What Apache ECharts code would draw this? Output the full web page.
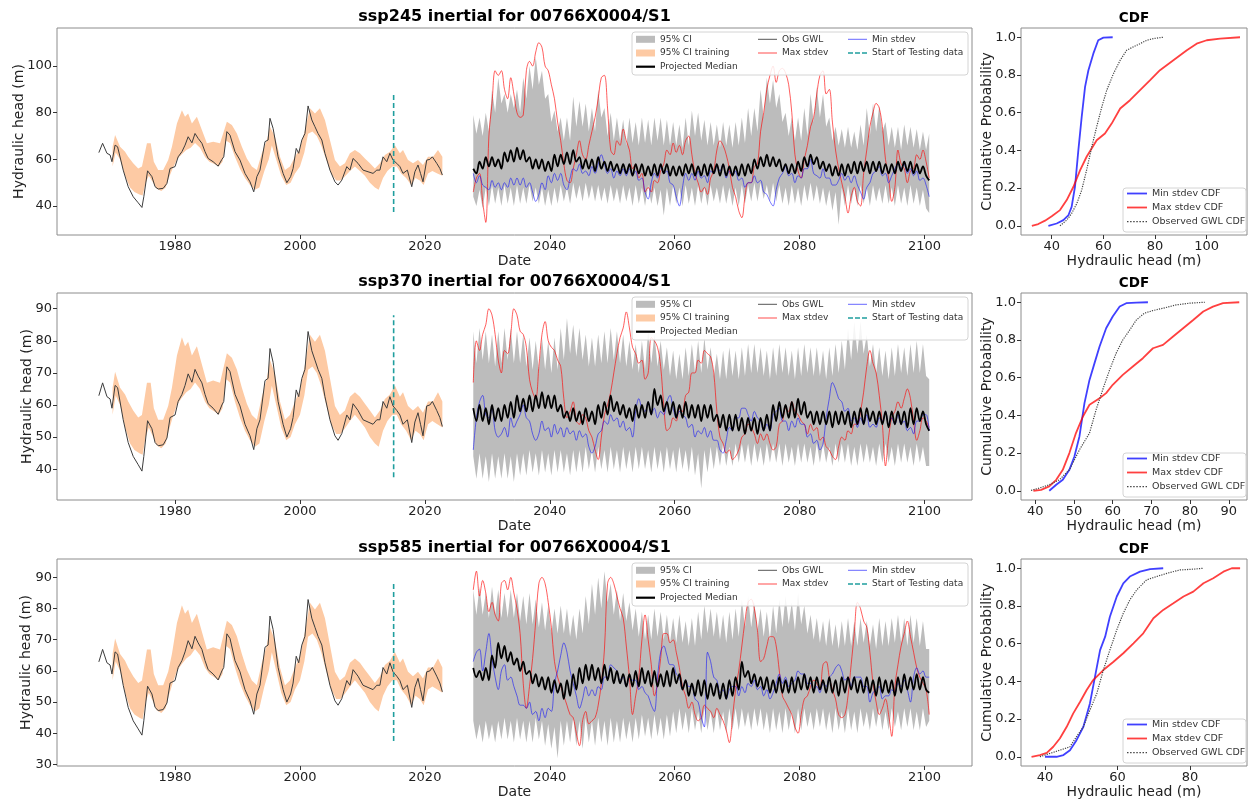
<!DOCTYPE html>
<html>
<head>
<meta charset="utf-8">
<script src="https://cdn.jsdelivr.net/npm/echarts@6/dist/echarts.min.js"></script>
<style>html,body{margin:0;padding:0;background:#fff}#chart{width:1250px;height:801px}</style>
</head>
<body>
<div id="chart"></div>
<script>
const FONT = 'DejaVu Sans';
const GREY = '#bcbcbc';
const ORANGE = '#fdcaa4';
const TEAL = '#1f9e9e';
const RED = 'rgba(255,0,0,0.7)';
const BLUE = 'rgba(0,0,255,0.6)';

// observed groundwater level (shared by all scenarios)
const obsHist = [[1967.8,62.9],[1968.4,66.9],[1969.1,62.6],[1969.6,61.9],[1969.9,59],[1970.4,66.1],[1970.8,65.4],[1971.7,55.4],[1972.5,48.3],[1973.3,44],[1974.1,41.4],[1974.7,39.4],[1975.0,44],[1975.6,55.1],[1976.3,52.6],[1976.8,48.3],[1977.3,47.3],[1978.1,47.6],[1978.7,49.7],[1979.2,56.1],[1980.0,56.9],[1980.5,61.1],[1981.1,63.3],[1981.6,66.1],[1982.1,69.7],[1982.7,67.1],[1983.2,71.1],[1983.7,69],[1984.3,66.9],[1984.8,63.3],[1985.3,60.4],[1986.1,59],[1986.9,57.1],[1987.5,60],[1987.8,61.1],[1988.3,71.9],[1988.8,70.4],[1989.6,63.3],[1990.4,59.7],[1991.2,54],[1992.0,50.4],[1992.6,46.1],[1993.1,52.6],[1993.6,55.4],[1994.4,67.6],[1994.9,68.3],[1995.2,77.6],[1995.7,73.3],[1996.5,61.1],[1997.3,54],[1997.9,50],[1998.5,52.6],[1998.9,56.1],[1999.4,64.7],[1999.8,62.6],[2000.3,68.3],[2000.8,71.1],[2001.3,82.9],[2001.9,76.9],[2002.4,74],[2002.9,71.1],[2003.5,68.3],[2004.0,62.6],[2004.8,55.4],[2005.6,50.4],[2006.1,49],[2006.7,51.1],[2007.5,56.9],[2008.0,55.4],[2008.5,60.4],[2009.3,58.3],[2010.1,55.4],[2010.9,54.7],[2011.7,54],[2012.3,55.4],[2012.8,55.4],[2013.3,61.1],[2013.9,59],[2014.4,62.6],[2014.9,59.7],[2015.5,58.3],[2016.0,56.9],[2016.5,54],[2017.2,55.4],[2017.9,48.3],[2018.4,54.7],[2018.9,57.6],[2019.3,54],[2019.7,50.4],[2020.3,59.7],[2020.8,60],[2021.2,61.1],[2021.9,58.3],[2022.4,56.1],[2022.8,53.3]];

// 95% CI of the training period
const trainUpper = [[1970.0,65.4],[1970.4,70.4],[1971.2,65.4],[1972.0,63.3],[1972.5,61.1],[1973.3,58.3],[1974.1,56.1],[1974.7,56.9],[1975.5,66.9],[1976.1,66.9],[1976.6,59],[1977.3,55.4],[1978.1,55.4],[1978.9,59.7],[1979.5,65.4],[1980.3,75.4],[1981.1,81.1],[1981.6,78.3],[1982.1,79.7],[1982.7,75.4],[1983.5,78.3],[1984.3,72.6],[1985.1,66.9],[1986.1,67.6],[1987.2,66.9],[1988.3,76.1],[1989.1,74.7],[1989.9,71.1],[1990.7,65.4],[1991.5,60.4],[1992.3,56.9],[1993.1,55.4],[1993.9,62.6],[1994.7,68.3],[1995.2,74],[1996.0,69.7],[1996.8,61.1],[1997.6,55.4],[1998.4,56.9],[1999.2,61.1],[2000.0,64.7],[2000.8,72.6],[2001.6,81.9],[2002.4,79.7],[2003.2,81.9],[2004.0,76.9],[2004.8,68.3],[2005.6,59.7],[2006.4,56.9],[2007.2,58.3],[2008.0,62.6],[2008.8,64],[2009.6,62.6],[2010.4,60.4],[2011.2,58.3],[2012.0,56.1],[2012.8,58.3],[2013.6,61.9],[2014.4,63.3],[2015.2,66.1],[2016.0,62.6],[2016.5,64],[2017.3,59.7],[2018.1,58.3],[2018.9,59.7],[2019.7,57.6],[2020.5,61.1],[2021.3,61.1],[2022.1,64],[2022.8,61.1]];
const trainLower = [[1970.0,57],[1970.5,63],[1971.2,60],[1972.0,53],[1972.8,48],[1973.5,46],[1974.3,45],[1974.8,44.5],[1975.3,50],[1975.8,53],[1976.5,50],[1977.0,47.5],[1977.8,46.5],[1978.5,48],[1979.0,52],[1979.6,56],[1980.3,60],[1981.0,62],[1981.8,64],[1982.5,65],[1983.2,67],[1984.0,65],[1984.8,61],[1985.5,59],[1986.3,58],[1987.0,57],[1987.6,59],[1988.2,68],[1988.8,67],[1989.6,61],[1990.4,56],[1991.2,52],[1992.0,49],[1992.8,47],[1993.5,48],[1994.3,55],[1995.0,60],[1995.5,66],[1996.2,60],[1997.0,53],[1997.8,49],[1998.5,50],[1999.2,54],[2000.0,57],[2000.7,63],[2001.3,71],[2002.0,72],[2002.7,70],[2003.4,66],[2004.2,60],[2005.0,54],[2005.8,51],[2006.5,51],[2007.3,53],[2008.0,55],[2008.8,57],[2009.6,55],[2010.4,53],[2011.2,50],[2012.0,48],[2012.6,47],[2013.3,52],[2014.0,55],[2014.8,57],[2015.5,57],[2016.2,54],[2017.0,52],[2017.8,49],[2018.5,52],[2019.2,51],[2019.8,49],[2020.5,54],[2021.2,55],[2022.0,54],[2022.8,53]];

const testStart = [[2015, 37.5], [2015, 88]];

// projections: half-yearly values from 2027.75 to 2100.75
const projStart = 2027.75;
const up245 = [79,71,78,70,80,72,90,80,95,84,88,80,88,82,90,80,95,86,100,90,
  104,92,98,86,88,76,81,72,78,68,78,68,87,74,85,74,84,72,82,72,
  90,78,82,70,80,68,78,68,77,66,78,67,76,66,78,67,77,66,78,68,
  78,66,77,66,76,66,75,65,78,66,81,70,80,68,77,66,76,66,75,65,
  76,66,75,65,76,66,78,67,82,70,82,72,90,78,95,84,94,82,88,76,
  80,70,78,68,78,68,82,70,88,76,91,78,88,74,78,68,74,66,73,65,
  74,65,72,64,75,66,82,70,84,72,83,72,76,66,74,65,74,64,75,66,
  74,65,73,64,72,64,71];
const lo245 = [44,40,47,39,48,40,49,41,48,40,49,41,48,40,49,41,48,41,49,42,
  48,41,48,40,47,40,48,41,49,42,48,41,50,43,49,42,50,43,49,42,
  49,42,48,41,49,42,48,41,49,42,48,40,49,41,48,40,49,41,48,40,
  47,36,48,40,49,41,48,40,49,41,48,40,49,41,48,40,49,42,48,41,
  49,41,48,40,48,40,49,41,49,42,50,42,50,43,49,42,50,42,49,41,
  48,40,49,41,48,40,49,42,50,42,49,41,48,40,47,38,46,32,48,40,
  49,41,48,40,49,41,48,40,49,42,48,41,49,41,48,40,49,41,48,40,
  49,41,48,40,47,39,37];
const med245 = [56,54,59,56,61,57,61,57,60,56,63,59,64,59,65,60,64,59,61,56,
  60,56,60,55,59,55,62,57,62,58,63,58,64,59,61,56,60,56,60,55,
  61,56,59,55,59,55,58,54,58,54,58,53,58,54,58,53,57,53,58,53,
  58,54,58,53,57,53,57,53,58,54,58,53,57,53,58,53,58,54,58,53,
  58,53,57,53,57,53,58,53,58,54,60,56,61,57,62,57,61,57,60,55,
  58,54,58,54,59,55,61,57,62,58,61,56,59,55,58,53,57,53,58,53,
  58,54,59,54,59,55,59,54,59,55,59,54,58,54,58,54,59,55,59,55,
  59,54,58,54,57,53,51];
const red245 = [46,52,54,42,33,70,84,98,96,98,90,86,95,88,80,78,79,98,102,100,
  106,110,108,100,98,92,86,76,68,58,51,50,56,62,68,62,60,66,72,78,
  86,95,96,82,64,62,68,66,73,68,64,56,58,52,54,46,48,46,51,50,
  55,58,64,62,67,63,66,62,68,70,62,54,50,46,48,45,52,55,64,68,
  66,62,56,48,44,38,35,44,50,50,57,58,72,80,90,96,100,93,98,99,
  97,92,80,62,55,52,60,66,74,78,88,96,98,88,90,76,64,56,50,44,
  37,44,48,42,40,54,64,74,80,84,82,74,60,52,42,48,64,58,56,50,
  55,56,62,60,64,59,52];
const blue245 = [54,50,53,49,48,47,51,48,50,47,50,48,52,49,52,49,52,48,50,46,
  42,45,50,47,53,50,54,51,54,49,47,52,56,55,58,54,55,53,57,54,
  58,62,58,54,56,52,55,53,56,53,56,53,55,51,52,46,43,50,54,52,
  57,54,55,50,49,44,40,48,54,51,54,51,55,52,53,50,55,54,57,55,
  58,52,55,53,55,51,52,48,50,50,53,50,51,46,45,42,40,47,52,54,
  57,53,54,50,53,52,56,56,60,54,53,52,56,52,52,49,49,51,54,51,
  53,50,53,49,46,43,48,50,54,55,57,53,54,50,53,56,58,56,58,54,
  56,53,55,51,52,49,44];

const up370 = [83,73,84,74,83,73,82,72,83,73,84,74,84,73,83,73,82,72,81,71,
  80,71,81,71,80,70,81,71,84,74,87,76,85,75,84,74,82,72,81,72,
  82,73,83,73,84,74,83,73,82,72,80,71,79,70,80,71,83,73,82,72,
  80,71,78,69,77,68,76,68,78,69,79,70,80,70,81,71,78,69,76,68,
  77,68,78,69,77,68,78,69,79,70,79,70,78,69,77,68,78,69,79,70,
  78,69,77,68,78,69,79,70,78,69,78,69,77,68,78,69,79,70,80,71,
  84,74,86,76,86,76,82,72,79,70,78,69,77,68,78,69,79,70,78,69,
  79,70,80,70,79,69,68];
const lo370 = [44,37,45,37,44,36,45,37,44,37,45,37,44,36,45,38,45,38,46,39,
  45,38,46,39,45,38,46,39,46,39,45,38,46,39,46,39,47,40,46,39,
  47,40,46,39,47,40,46,39,47,40,46,39,47,40,47,40,46,39,47,40,
  46,39,47,40,46,39,47,40,46,39,47,38,45,34,46,39,47,40,47,41,
  48,41,47,41,48,42,48,42,48,41,48,42,47,41,48,42,48,42,48,41,
  48,42,47,41,48,42,48,42,47,41,48,42,48,42,47,41,48,42,48,42,
  48,41,47,41,48,42,48,42,47,41,48,42,48,42,47,41,48,42,48,42,
  47,41,48,42,47,41,41];
const med370 = [59,55,60,55,59,54,60,55,59,55,60,56,61,56,63,58,62,58,63,58,
  63,59,64,59,63,59,63,58,60,56,58,55,59,55,58,54,59,55,58,54,
  60,56,61,57,63,58,61,57,60,56,59,55,60,56,60,56,61,57,65,60,
  63,58,61,57,61,56,60,56,61,56,60,56,60,55,60,56,60,55,57,53,
  57,52,57,52,57,52,56,51,56,52,56,51,56,52,57,52,60,55,61,56,
  60,56,61,56,62,57,61,56,58,54,58,54,58,54,58,53,58,54,58,54,
  58,53,58,54,59,54,59,55,58,54,58,54,58,53,58,54,58,54,58,53,
  59,54,59,55,58,54,52];
const red370 = [67,80,77,82,85,90,88,82,74,70,77,76,82,90,88,83,82,78,68,64,
  62,72,82,86,80,78,77,74,72,62,56,58,61,55,54,57,56,52,50,46,
  43,50,57,60,64,70,76,81,84,89,84,78,76,73,74,68,70,81,80,78,
  72,60,52,53,56,55,59,58,63,64,70,70,74,73,77,76,75,70,58,50,
  48,45,46,43,44,46,50,51,54,53,51,48,51,49,51,48,46,47,54,55,
  59,58,61,58,57,55,54,51,54,52,53,49,50,47,46,44,43,47,50,49,
  52,51,54,54,58,64,72,77,73,70,63,54,41,50,56,58,61,59,62,65,
  62,55,49,52,56,55,53];
const blue370 = [46,56,61,63,57,56,59,52,50,51,53,50,56,53,55,57,60,56,55,51,
  49,51,55,52,53,50,54,51,53,50,53,51,52,49,52,50,51,47,45,47,
  51,52,55,54,57,55,56,53,55,52,53,50,58,62,59,58,61,57,59,56,
  58,57,61,63,59,56,58,57,56,53,54,50,52,51,53,50,52,49,49,46,
  45,49,53,52,56,56,59,59,57,55,58,56,55,52,54,52,57,58,59,55,
  55,52,55,53,56,54,54,50,51,48,49,46,48,56,62,67,65,62,61,58,
  59,55,56,53,56,54,57,53,54,53,56,55,58,54,56,54,57,54,55,52,
  53,51,55,55,57,57,52];

const up585 = [86,78,87,78,85,77,87,78,86,77,85,77,86,77,85,76,84,75,85,75,
  83,74,82,73,81,72,80,72,81,72,80,71,78,70,80,72,84,75,88,78,
  90,80,92,82,88,78,86,76,85,76,82,73,80,71,79,70,78,70,80,71,
  79,70,78,69,77,69,78,69,76,68,77,68,79,70,81,72,80,71,79,70,
  78,69,79,70,80,71,83,74,84,74,82,73,80,71,79,70,81,72,83,74,
  84,75,82,73,85,75,81,72,78,70,77,69,76,68,77,68,75,67,76,68,
  77,68,76,68,77,69,76,68,75,67,77,68,76,68,77,69,78,69,77,68,
  78,69,77,68,76,67,67];
const lo585 = [44,38,43,37,44,38,43,37,44,38,45,38,44,37,45,38,44,37,44,37,
  45,38,44,36,43,35,42,32,44,36,44,37,45,36,44,35,45,37,44,36,
  45,37,44,36,45,37,44,37,45,38,44,37,45,38,46,39,45,38,46,39,
  45,38,46,39,47,40,48,41,47,40,48,41,47,40,48,41,47,40,48,41,
  47,40,48,41,48,41,48,42,47,41,48,42,48,41,47,40,48,41,47,40,
  48,41,47,40,48,41,48,42,47,41,48,42,48,41,47,40,48,41,47,40,
  48,41,47,40,48,42,47,41,48,42,48,41,47,41,48,42,47,41,48,42,
  48,41,47,41,48,42,44];
const med585 = [61,58,60,57,61,57,65,61,69,64,68,63,66,62,64,60,63,59,60,56,
  59,55,58,54,58,53,57,53,56,51,57,52,59,54,61,56,62,57,62,57,
  61,56,62,57,61,56,60,56,59,55,59,55,60,55,61,56,60,55,60,55,
  59,55,60,55,61,56,59,54,57,52,56,52,57,52,57,51,56,52,56,51,
  56,51,57,52,58,54,63,58,60,56,59,55,58,54,58,53,57,53,58,53,
  57,53,58,53,58,54,59,54,58,53,58,54,57,53,58,53,57,52,58,53,
  58,54,58,53,57,53,58,53,57,52,58,53,57,53,57,52,58,53,59,54,
  58,54,59,54,58,54,53];
const red585 = [86,92,84,89,85,79,82,78,76,88,89,86,90,85,80,72,56,48,55,64,
  76,88,90,88,82,74,63,58,55,52,49,46,45,40,36,44,47,43,44,45,
  49,56,67,88,90,88,84,80,77,68,58,46,52,58,70,78,70,62,52,56,
  64,72,72,69,70,66,61,55,52,48,50,46,44,45,49,48,47,45,48,46,
  44,41,37,45,54,60,68,76,82,83,80,73,63,64,68,71,71,68,60,52,
  50,48,46,42,40,46,51,52,55,57,56,54,62,63,58,54,51,46,45,46,
  52,62,72,82,80,76,74,66,56,50,46,48,51,46,39,55,62,68,72,76,
  71,66,61,58,56,54,46];
const blue585 = [63,66,67,60,66,72,64,58,54,60,62,57,58,55,52,49,49,48,50,46,
  47,44,48,45,48,47,56,60,65,69,66,60,56,52,48,51,55,52,54,52,
  55,54,58,58,62,61,60,57,58,55,58,57,57,54,55,53,52,49,47,58,
  66,68,65,62,62,59,58,54,57,55,55,51,50,45,42,66,63,58,57,53,
  54,51,54,55,55,52,55,53,56,55,57,54,55,52,54,51,53,56,59,56,
  58,55,56,57,60,59,59,56,56,54,55,53,56,55,58,59,61,62,60,57,
  58,55,58,58,58,55,55,50,53,54,55,51,52,52,54,53,56,55,57,54,
  50,58,61,59,60,58,58];

// CDFs: [hydraulic head, cumulative probability]
const cdfMin245 = [[38.7,0],[41.9,0.012],[44.5,0.03],[46.5,0.057],[47.7,0.1],[49,0.207],[50.3,0.4],[51.6,0.578],[52.9,0.737],[54.2,0.825],[56.1,0.913],[58,0.984],[60,0.998],[63.6,1]];
const cdfMax245 = [[32.3,0],[34.8,0.009],[37.4,0.027],[40,0.05],[43.2,0.083],[45.8,0.136],[48.4,0.207],[51,0.295],[53.5,0.366],[57.4,0.454],[60.6,0.489],[63.2,0.542],[66.5,0.622],[70.3,0.666],[74.2,0.719],[78.1,0.772],[81.9,0.825],[87.1,0.878],[92.3,0.931],[96.1,0.966],[100,0.984],[105.2,0.993],[112.9,1]];
const cdfObs245 = [[43.2,0],[45.8,0.03],[47.7,0.065],[49.7,0.118],[51.6,0.189],[53.5,0.295],[55.5,0.419],[57.4,0.525],[59.4,0.631],[61.3,0.719],[63.9,0.807],[66.5,0.878],[69,0.931],[71.6,0.949],[74.2,0.966],[76.8,0.984],[79.4,0.993],[83.2,1]];
const cdfMin370 = [[43.6,0],[45.4,0.032],[47.1,0.058],[48.8,0.111],[50.1,0.182],[51.4,0.288],[52.7,0.465],[54,0.588],[55.3,0.677],[56.6,0.765],[58.3,0.862],[60,0.924],[61.8,0.977],[63.5,0.995],[66.1,0.998],[69.1,1]];
const cdfMax370 = [[39.5,0],[41.5,0.005],[43.6,0.023],[45.4,0.058],[47.1,0.111],[48.8,0.2],[50.5,0.306],[52.3,0.394],[54,0.456],[56.6,0.491],[58.3,0.518],[60,0.562],[62.6,0.615],[65.2,0.659],[67.8,0.703],[70.4,0.756],[73,0.774],[75.6,0.818],[78.2,0.862],[80.8,0.906],[83.4,0.951],[85.9,0.977],[88.5,0.995],[92.7,1]];
const cdfObs370 = [[38.9,0.002],[41,0.014],[43.6,0.032],[46.2,0.058],[48.8,0.111],[51.4,0.217],[54,0.306],[55.7,0.429],[57.4,0.535],[59.2,0.641],[60.9,0.73],[62.6,0.8],[64.4,0.853],[66.1,0.906],[68.2,0.942],[70.4,0.956],[73,0.968],[76.4,0.986],[79.9,0.995],[83.8,1]];
const cdfMin585 = [[40,0],[43.2,0],[45.1,0.009],[46.9,0.035],[48.7,0.088],[50.6,0.159],[52.4,0.283],[53.8,0.425],[55.2,0.566],[56.6,0.637],[57.9,0.743],[59.8,0.85],[61.6,0.92],[63.4,0.956],[66.2,0.982],[69,0.995],[72.6,1]];
const cdfMax585 = [[36.3,0],[38.6,0.009],[40.5,0.021],[42.3,0.053],[44.1,0.097],[46,0.159],[47.8,0.23],[49.7,0.292],[51.5,0.354],[53.3,0.407],[56.1,0.46],[58.9,0.504],[61.6,0.549],[64.4,0.602],[67.1,0.655],[69.9,0.735],[72.6,0.779],[75.4,0.814],[78.2,0.85],[80.9,0.876],[83.7,0.92],[86.4,0.947],[89.2,0.982],[91.5,1],[93.8,1]];
const cdfObs585 = [[38.6,0],[41.4,0.018],[44.1,0.035],[46.9,0.053],[48.7,0.106],[50.6,0.159],[52.4,0.248],[54.3,0.336],[56.1,0.46],[57.9,0.566],[59.8,0.673],[61.6,0.761],[63.4,0.832],[65.3,0.885],[68,0.938],[70.8,0.956],[73.6,0.973],[77.2,0.991],[80.9,0.995],[83.7,1]];

const panels = [
  {scen:'ssp245', up:up245, lo:lo245, med:med245, red:red245, blue:blue245,
   cMin:cdfMin245, cMax:cdfMax245, cObs:cdfObs245,
   yRange:[27.6,116.3], yTicks:[40,60,80,100], yGap:31,
   cRange:[28.1,115.6], cTicks:[40,60,80,100]},
  {scen:'ssp370', up:up370, lo:lo370, med:med370, red:red370, blue:blue370,
   cMin:cdfMin370, cMax:cdfMax370, cObs:cdfObs370,
   yRange:[30.4,94.9], yTicks:[40,50,60,70,80,90], yGap:23,
   cRange:[36.3,94.7], cTicks:[40,50,60,70,80,90]},
  {scen:'ssp585', up:up585, lo:lo585, med:med585, red:red585, blue:blue585,
   cMin:cdfMin585, cMax:cdfMax585, cObs:cdfObs585,
   yRange:[29.5,95.9], yTicks:[30,40,50,60,70,80,90], yGap:24,
   cRange:[33.4,95.7], cTicks:[40,60,80]}
];
const yearTicks = [1980,2000,2020,2040,2060,2080,2100];
const probTicks = [0,0.2,0.4,0.6,0.8,1.0];

const rowTop = [28, 293, 559];
const rowH = 207;

// legend handles
const ICON_LINE = 'path://M0,0M19,7M0,3H19V4H0Z';
const ICON_THICK = 'path://M0,0M19,7M0,2.4H19V4.6H0Z';
const ICON_DASH = 'path://M0,0M19,7M0,2.7H5V4.3H0ZM7,2.7H12V4.3H7ZM14,2.7H19V4.3H14Z';
const ICON_CDF = 'path://M0,0M20,7M0,2.6H20V4.4H0Z';
const ICON_DOT = 'path://M0,0M20,7M0,3H1.5V4.2H0ZM3.1,3H4.6V4.2H3.1ZM6.2,3H7.7V4.2H6.2ZM9.3,3H10.8V4.2H9.3ZM12.4,3H13.9V4.2H12.4ZM15.5,3H17V4.2H15.5ZM18.6,3H20V4.2H18.6Z';

function halfYear(vals) {
  return vals.map((v, i) => [projStart + 0.5 * i, v]);
}

function valAxis(gi, range, ticks, name, gap, fmt) {
  return {
    type: 'value', gridIndex: gi, min: range[0], max: range[1],
    name: name, nameLocation: 'middle', nameGap: gap, nameMoveOverlap: false,
    nameTextStyle: {color: '#222', fontSize: 14, fontFamily: FONT},
    axisLine: {show: false, onZero: false}, splitLine: {show: false},
    axisTick: {show: true, length: 4, customValues: ticks, lineStyle: {color: '#333'}},
    axisLabel: {customValues: ticks, color: '#222', fontSize: 13, fontFamily: FONT, margin: 5,
      formatter: fmt || (v => String(v))}
  };
}

function band(name, gi, upper, lower, color) {
  return {
    type: 'custom', name: name, xAxisIndex: gi, yAxisIndex: gi,
    data: [upper[0]], itemStyle: {color: color}, silent: true, z: 2,
    renderItem: function (params, api) {
      const pts = upper.map(p => api.coord(p))
        .concat(lower.slice().reverse().map(p => api.coord(p)));
      return {type: 'polygon', shape: {points: pts}, style: {fill: color}};
    }
  };
}

function line(name, gi, data, ls, smooth) {
  return {
    type: 'line', name: name, xAxisIndex: gi, yAxisIndex: gi, data: data,
    symbol: 'none', showSymbol: false, smooth: smooth || false, lineStyle: ls,
    itemStyle: {color: ls.color}, silent: true, z: 3
  };
}

function item(name, icon, color) {
  return {name: name, icon: icon, itemStyle: {color: color, borderWidth: 0}};
}

const grids = [], xAxes = [], yAxes = [], series = [], titles = [], legends = [], boxes = [];
const legendText = {fontSize: 9, color: '#333', fontFamily: FONT, lineHeight: 11};

panels.forEach((p, i) => {
  const top = rowTop[i];
  grids[i] = {left: 57, top: top, width: 915, height: rowH, show: true,
    borderColor: '#8c8c8c', borderWidth: 1, backgroundColor: 'transparent'};
  grids[i + 3] = {left: 1021, top: top, width: 226, height: rowH, show: true,
    borderColor: '#8c8c8c', borderWidth: 1, backgroundColor: 'transparent'};

  xAxes[i] = valAxis(i, [1961.1, 2107.6], yearTicks, 'Date', 19);
  yAxes[i] = valAxis(i, p.yRange, p.yTicks, 'Hydraulic head (m)', p.yGap);
  xAxes[i + 3] = valAxis(i + 3, p.cRange, p.cTicks, 'Hydraulic head (m)', 19);
  yAxes[i + 3] = valAxis(i + 3, [-0.049, 1.049], probTicks, 'Cumulative Probability', 27,
    v => v.toFixed(1));

  series.push(band('95% CI training', i, trainUpper, trainLower, ORANGE));
  series.push(band('95% CI', i, halfYear(p.up), halfYear(p.lo), GREY));
  series.push(line('Obs GWL', i, obsHist, {color: '#3c3c3c', width: 1}));
  series.push(line('Start of Testing data', i, testStart, {color: TEAL, width: 1.6, type: [5, 3]}));
  series.push(line('Max stdev', i, halfYear(p.red), {color: RED, width: 0.9}, 0.35));
  series.push(line('Min stdev', i, halfYear(p.blue), {color: BLUE, width: 0.9}, 0.35));
  series.push(line('Projected Median', i, halfYear(p.med), {color: '#000', width: 1.8}, 0.35));

  series.push(line('Min stdev CDF', i + 3, p.cMin, {color: 'rgba(0,0,255,0.75)', width: 1.8}));
  series.push(line('Max stdev CDF', i + 3, p.cMax, {color: 'rgba(255,0,0,0.75)', width: 1.8}));
  series.push(line('Observed GWL CDF', i + 3, p.cObs, {color: '#444', width: 1.2, type: 'dotted'}));

  titles.push({text: p.scen + ' inertial for 00766X0004/S1', left: 514.5, textAlign: 'center',
    top: top - 19, padding: 0,
    textStyle: {fontSize: 16, fontWeight: 'bold', fontFamily: FONT, color: '#000'}});
  titles.push({text: 'CDF', left: 1134, textAlign: 'center', top: top - 17, padding: 0,
    textStyle: {fontSize: 13.5, fontWeight: 'bold', fontFamily: FONT, color: '#000'}});

  const base = {orient: 'vertical', itemWidth: 19, itemHeight: 7, itemGap: 2.7, padding: 0,
    selectedMode: false, textStyle: legendText, z: 10, top: top + 5.8};
  legends.push(Object.assign({}, base, {left: 636, data: [
    item('95% CI', 'rect', GREY),
    item('95% CI training', 'rect', ORANGE),
    item('Projected Median', ICON_THICK, '#000')]}));
  legends.push(Object.assign({}, base, {left: 758, data: [
    item('Obs GWL', ICON_LINE, '#555'),
    item('Max stdev', ICON_LINE, RED)]}));
  legends.push(Object.assign({}, base, {left: 848, data: [
    item('Min stdev', ICON_LINE, BLUE),
    item('Start of Testing data', ICON_DASH, TEAL)]}));
  legends.push(Object.assign({}, base, {left: 1127, top: top + 160, itemWidth: 20, itemGap: 3,
    textStyle: Object.assign({}, legendText, {fontSize: 9.5}),
    data: [item('Min stdev CDF', ICON_CDF, 'rgba(0,0,255,0.75)'),
           item('Max stdev CDF', ICON_CDF, 'rgba(255,0,0,0.75)'),
           item('Observed GWL CDF', ICON_DOT, '#444')]}));

  boxes.push({type: 'rect', z: 5, shape: {x: 632, y: top + 4, width: 336, height: 43, r: 3},
    style: {fill: 'rgba(255,255,255,0.85)', stroke: '#d4d4d4', lineWidth: 1}});
  boxes.push({type: 'rect', z: 5, shape: {x: 1123, y: top + 160, width: 123, height: 44, r: 3},
    style: {fill: 'rgba(255,255,255,0.85)', stroke: '#d4d4d4', lineWidth: 1}});
});

const chart = echarts.init(document.getElementById('chart'));
chart.setOption({
  animation: false,
  backgroundColor: '#fff',
  title: titles,
  grid: grids,
  xAxis: xAxes,
  yAxis: yAxes,
  legend: legends,
  graphic: boxes,
  series: series
});
window.addEventListener('resize', () => chart.resize());
</script>
</body>
</html>
